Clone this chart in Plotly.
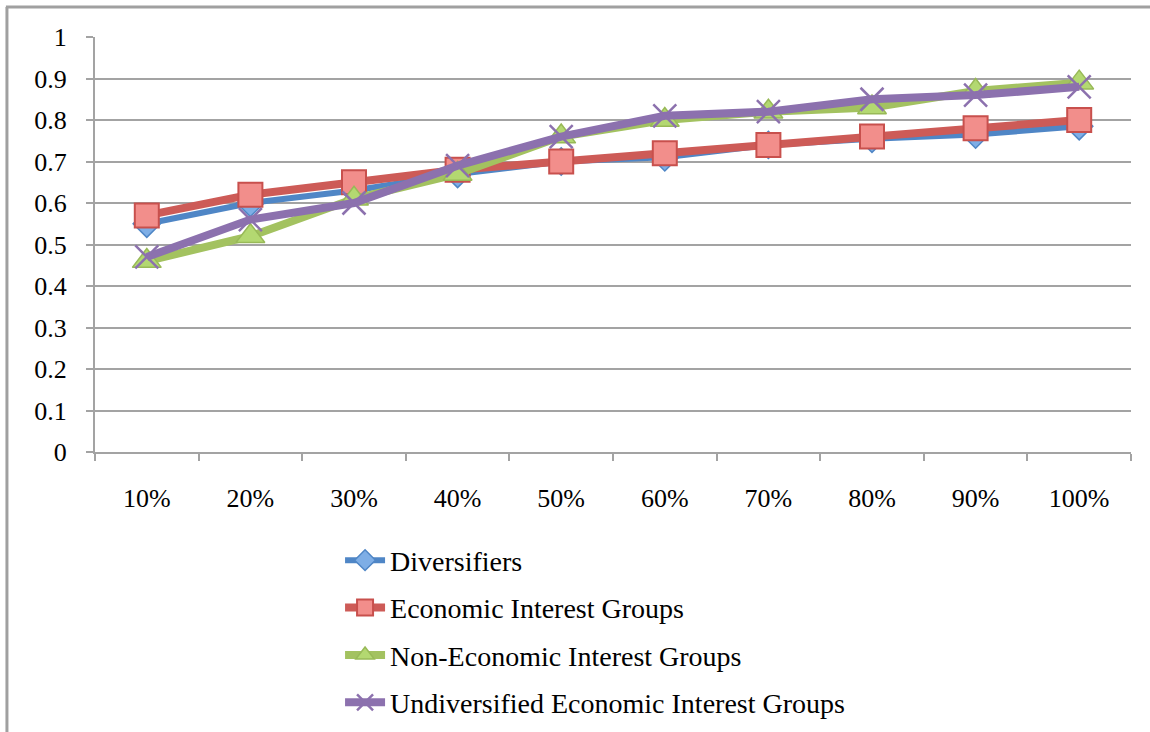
import plotly.graph_objects as go

# Share of groups reached at each coverage level
categories = ["10%", "20%", "30%", "40%", "50%", "60%", "70%", "80%", "90%", "100%"]
diversifiers = [0.55, 0.60, 0.63, 0.67, 0.70, 0.71, 0.74, 0.755, 0.765, 0.785]
economic = [0.57, 0.62, 0.65, 0.68, 0.70, 0.72, 0.74, 0.76, 0.78, 0.80]
non_economic = [0.46, 0.52, 0.61, 0.67, 0.76, 0.80, 0.82, 0.83, 0.87, 0.89]
undiversified = [0.47, 0.56, 0.60, 0.69, 0.76, 0.81, 0.82, 0.85, 0.86, 0.88]

y_ticks = [0, 0.1, 0.2, 0.3, 0.4, 0.5, 0.6, 0.7, 0.8, 0.9, 1]
y_tick_text = ["0", "0.1", "0.2", "0.3", "0.4", "0.5", "0.6", "0.7", "0.8", "0.9", "1"]

FONT = "Liberation Serif"
GRID = "#a3a3a3"

series = [
    ("Diversifiers", diversifiers, "#4f86c6", "diamond", "#7eaee6", "#4f86c6", 21, 1.5, 6),
    ("Economic Interest Groups", economic, "#cd5b57", "square", "#f28e8b", "#c8504d", 24, 2, 8),
    ("Non-Economic Interest Groups", non_economic, "#a3c260", "triangle-up", "#b3d871", "#98b957", 25, 1.5, 8),
    ("Undiversified Economic Interest Groups", undiversified, "#8c71ae", "x-thin", "#8c71ae", "#8c71ae", 23, 2.5, 8),
]

fig = go.Figure()
for i, (name, vals, lc, sym, fill, edge, size, ew, lw) in enumerate(series):
    fig.add_trace(go.Scatter(
        x=categories, y=vals, name=name, mode="lines+markers",
        legendgroup=f"g{i}",
        line=dict(color=lc, width=lw),
        marker=dict(symbol=sym, size=size, color=fill,
                    line=dict(color=edge, width=ew)),
    ))

fig.update_layout(
    width=1150, height=732,
    margin=dict(l=95, r=19, t=37, b=280, autoexpand=False),
    paper_bgcolor="white", plot_bgcolor="white",
    font=dict(family=FONT, size=26, color="black"),
    showlegend=True,
    legend=dict(
        xref="container", yref="container",
        x=0.2957, y=0.2685, xanchor="left", yanchor="top",
        orientation="v", tracegroupgap=8,
        font=dict(family=FONT, size=28, color="black"),
        bgcolor="rgba(0,0,0,0)", itemwidth=40,
    ),
    xaxis=dict(
        type="category", range=[-0.5, 9.5], automargin=False,
        showgrid=False, showline=True, linecolor=GRID, linewidth=2,
        ticks="outside", tickson="boundaries", ticklen=7, tickwidth=2,
        tickcolor=GRID, ticklabelstandoff=22,
        tickfont=dict(family=FONT, size=26, color="black"),
    ),
    yaxis=dict(
        range=[0, 1], tickvals=y_ticks, ticktext=y_tick_text, automargin=False,
        showgrid=True, gridcolor=GRID, gridwidth=2,
        showline=True, linecolor=GRID, linewidth=2,
        ticks="outside", ticklen=7, tickwidth=2, tickcolor=GRID,
        ticklabelstandoff=14, zeroline=False,
        tickfont=dict(family=FONT, size=26, color="black"),
    ),
)

# Outer chart frame (left and top edges)
fig.add_shape(type="line", xref="paper", yref="paper",
              x0=-0.085, x1=-0.085, y0=1.0723, y1=-0.70,
              line=dict(color="#a0a0a0", width=3))
fig.add_shape(type="line", xref="paper", yref="paper",
              x0=-0.086, x1=1.05, y0=1.0723, y1=1.0723,
              line=dict(color="#a0a0a0", width=3))

fig.write_html("out.html")
